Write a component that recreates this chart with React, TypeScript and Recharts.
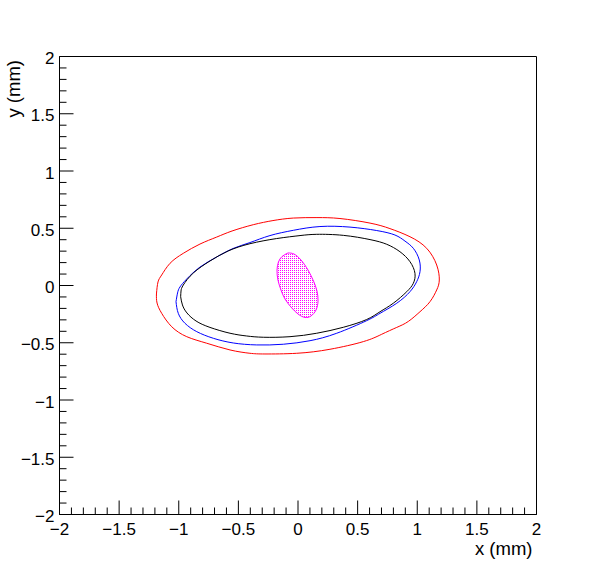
import { ScatterChart, Scatter, XAxis, YAxis, ReferenceArea } from 'recharts';

// contours, in mm
const redContour: [number, number][] = [
  [-1.187, -0.074], [-1.174, 0.031], [-1.143, 0.092], [-1.073, 0.194], [-0.962, 0.281],
  [-0.822, 0.362], [-0.682, 0.423], [-0.553, 0.476], [-0.375, 0.531], [-0.21, 0.567],
  [-0.039, 0.589], [0.159, 0.593], [0.352, 0.585], [0.604, 0.545], [0.771, 0.497],
  [0.939, 0.426], [1.079, 0.325], [1.163, 0.179], [1.185, 0.048], [1.163, -0.039],
  [1.107, -0.141], [1.023, -0.229], [0.925, -0.314], [0.828, -0.366], [0.702, -0.426],
  [0.548, -0.49], [0.268, -0.557], [-0.011, -0.592], [-0.277, -0.598], [-0.403, -0.592],
  [-0.57, -0.563], [-0.766, -0.504], [-0.933, -0.447], [-1.059, -0.36], [-1.143, -0.243],
  [-1.182, -0.153],
];

const blueContour: [number, number][] = [
  [-1.023, -0.141], [-1.01, -0.065], [-0.99, -0.013], [-0.933, 0.057], [-0.822, 0.161],
  [-0.682, 0.249], [-0.545, 0.323], [-0.403, 0.375], [-0.235, 0.436], [-0.039, 0.482],
  [0.184, 0.515], [0.436, 0.51], [0.66, 0.48], [0.813, 0.441], [0.897, 0.388],
  [0.967, 0.325], [1.017, 0.223], [1.023, 0.12], [0.995, 0.033], [0.939, -0.054],
  [0.828, -0.155], [0.688, -0.243], [0.576, -0.307], [0.325, -0.417], [0.101, -0.482],
  [-0.123, -0.513], [-0.346, -0.519], [-0.543, -0.502], [-0.71, -0.461], [-0.849, -0.403],
  [-0.948, -0.33], [-1.004, -0.243],
];

const blackContour: [number, number][] = [
  [-0.984, -0.098], [-0.981, -0.048], [-0.962, 0.004], [-0.878, 0.109], [-0.738, 0.214],
  [-0.587, 0.301], [-0.403, 0.365], [-0.179, 0.41], [0.017, 0.436], [0.157, 0.447],
  [0.38, 0.438], [0.604, 0.401], [0.744, 0.36], [0.855, 0.295], [0.939, 0.208],
  [0.981, 0.106], [0.967, 0.019], [0.912, -0.054], [0.799, -0.155], [0.688, -0.229],
  [0.576, -0.297], [0.38, -0.365], [0.157, -0.417], [-0.067, -0.447], [-0.291, -0.452],
  [-0.43, -0.441], [-0.57, -0.417], [-0.738, -0.366], [-0.855, -0.31], [-0.931, -0.24],
  [-0.969, -0.17],
];

const spotContour: [number, number][] = [
  [-0.084, 0.284], [-0.134, 0.253], [-0.164, 0.205], [-0.176, 0.135], [-0.168, 0.048],
  [-0.143, -0.039], [-0.109, -0.118], [-0.059, -0.188], [0.0, -0.249], [0.059, -0.279],
  [0.109, -0.266], [0.151, -0.214], [0.168, -0.135], [0.159, -0.048], [0.13, 0.039],
  [0.084, 0.135], [0.025, 0.223], [-0.034, 0.275],
];

const majorTicks = [-2, -1.5, -1, -0.5, 0, 0.5, 1, 1.5, 2];

// 5 subdivisions between labelled ticks, like ROOT's default
const allTicks: number[] = [];
majorTicks.forEach((t, i) => {
  if (i === majorTicks.length - 1) { allTicks.push(t); return; }
  for (let k = 0; k < 5; k++) allTicks.push(+(t + k * 0.1).toFixed(2));
});

const closed = (pts: [number, number][]) => [...pts, pts[0]].map(([x, y]) => ({ x, y }));

const font = '"Liberation Sans", Arial, Helvetica, sans-serif';

const isMajor = (v: number) => Math.abs(v * 2 - Math.round(v * 2)) < 1e-6;
const fmt = (v: number) => (v < 0 ? '\u2212' + String(-v) : String(v));

const XTick = (props: any) => {
  const { x, y, payload } = props;
  const v = payload.value;
  const major = isMajor(v);
  return (
    <g>
      <line x1={x} y1={y} x2={x} y2={y - (major ? 14 : 7)} stroke="#000" />
      {major && (
        <text x={x} y={y + 20} textAnchor="middle" fontSize={17} fontFamily={font} fill="#000">
          {fmt(v)}
        </text>
      )}
    </g>
  );
};

const YTick = (props: any) => {
  const { x, y, payload } = props;
  const v = payload.value;
  const major = isMajor(v);
  return (
    <g>
      <line x1={x} y1={y} x2={x + (major ? 14 : 7)} y2={y} stroke="#000" />
      {major && (
        <text x={x - 5} y={y + 7.5} textAnchor="end" fontSize={17} fontFamily={font} fill="#000">
          {fmt(v)}
        </text>
      )}
    </g>
  );
};

const NoDot = () => <g />;

export default function App() {
  return (
    <div style={{ position: 'absolute', left: 0, top: 0, width: 596, height: 572, background: '#fff' }}>
      <ScatterChart width={596} height={572} margin={{ top: 56.5, right: 59.5, bottom: 0, left: 0 }}>
        <defs>
          <pattern id="magentaDots" patternUnits="userSpaceOnUse" x={0} y={0} width={2} height={2}>
            <rect x={0} y={0} width={1} height={1} fill="#ff00ff" />
          </pattern>
        </defs>
        <XAxis
          type="number"
          dataKey="x"
          domain={[-2, 2]}
          ticks={allTicks}
          interval={0}
          allowDataOverflow
          height={57.5}
          tickSize={0}
          tickMargin={0}
          axisLine={{ stroke: '#000' }}
          tick={<XTick />}
          label={{
            content: (p: any) => (
              <text
                x={p.viewBox.x + p.viewBox.width - 4}
                y={p.viewBox.y + 40}
                textAnchor="end"
                fontSize={18.5}
                fontFamily={font}
                fill="#000"
              >
                x (mm)
              </text>
            ),
          }}
        />
        <YAxis
          type="number"
          dataKey="y"
          domain={[-2, 2]}
          ticks={allTicks}
          interval={0}
          allowDataOverflow
          width={59.5}
          tickSize={0}
          tickMargin={0}
          axisLine={{ stroke: '#000' }}
          tick={<YTick />}
          label={{
            content: () => (
              <text
                x={20}
                y={60}
                transform="rotate(-90 20 60)"
                textAnchor="end"
                fontSize={18.5}
                fontFamily={font}
                fill="#000"
              >
                y (mm)
              </text>
            ),
          }}
        />
        <ReferenceArea x1={-2} x2={2} y1={-2} y2={2} fill="none" fillOpacity={0} stroke="#000" strokeOpacity={1} />
        <Scatter
          data={closed(redContour)}
          fill="#ff0000"
          line={{ stroke: '#ff0000', strokeWidth: 1 }}
          lineType="joint"
          lineJointType="natural"
          shape={<NoDot />}
          isAnimationActive={false}
        />
        <Scatter
          data={closed(blueContour)}
          fill="#0000ff"
          line={{ stroke: '#0000ff', strokeWidth: 1 }}
          lineType="joint"
          lineJointType="natural"
          shape={<NoDot />}
          isAnimationActive={false}
        />
        <Scatter
          data={closed(blackContour)}
          fill="#000000"
          line={{ stroke: '#000000', strokeWidth: 1 }}
          lineType="joint"
          lineJointType="natural"
          shape={<NoDot />}
          isAnimationActive={false}
        />
        <Scatter
          data={closed(spotContour)}
          fill="#ff00ff"
          line={{ stroke: '#ff00ff', strokeWidth: 1, fill: 'url(#magentaDots)' }}
          lineType="joint"
          lineJointType="natural"
          shape={<NoDot />}
          isAnimationActive={false}
        />
      </ScatterChart>
    </div>
  );
}
